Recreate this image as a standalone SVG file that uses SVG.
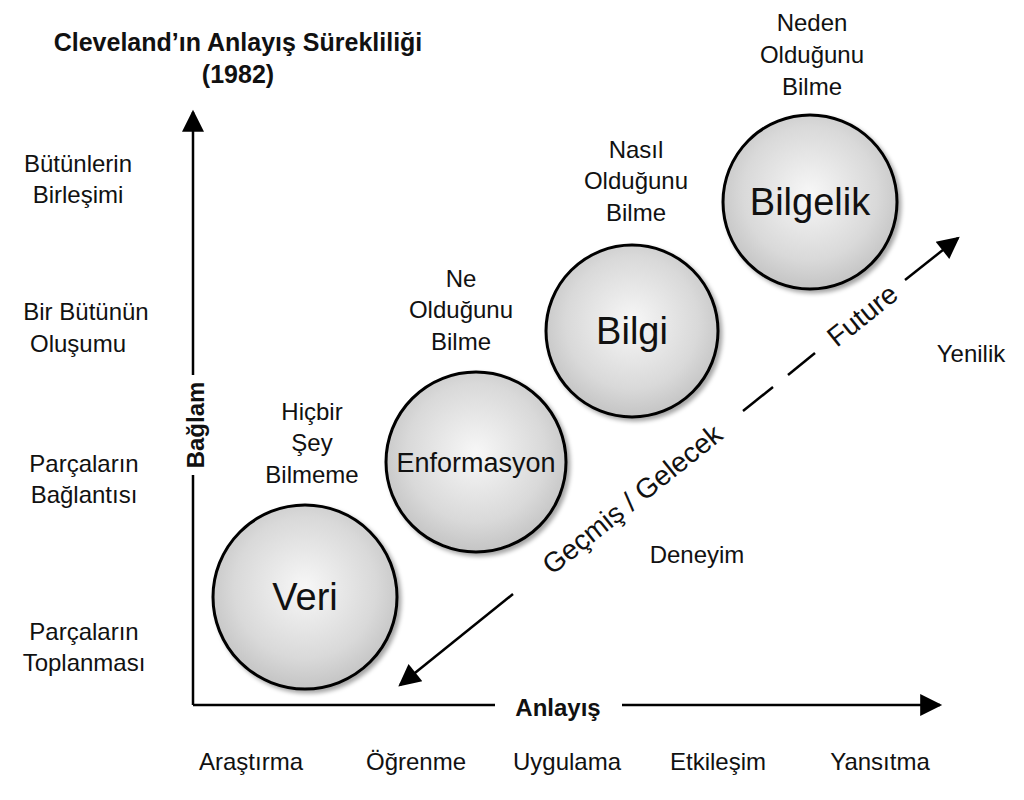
<svg xmlns="http://www.w3.org/2000/svg" width="1024" height="800" viewBox="0 0 1024 800">
<defs>
<radialGradient id="g" cx="0.5" cy="0.45" r="0.55">
<stop offset="0" stop-color="#f7f7f7"/><stop offset="0.7" stop-color="#d9d9d9"/><stop offset="1" stop-color="#c4c4c4"/>
</radialGradient>
<filter id="sh" x="-20%" y="-20%" width="140%" height="140%"><feDropShadow dx="3" dy="3" stdDeviation="2" flood-color="#000" flood-opacity="0.35"/></filter>
<marker id="ah2" viewBox="0 0 10 10" refX="9" refY="5" markerWidth="26" markerHeight="22" markerUnits="userSpaceOnUse" orient="auto-start-reverse"><path d="M0,0 L10,5 L0,10 z" fill="#000"/></marker>
</defs>
<style>
text{font-family:"Liberation Sans",Arial,sans-serif;fill:#111}
.t{font-size:24px;text-anchor:middle}
.b{font-weight:bold}
.ti{font-size:25px}
.big{font-size:38px}
.mid{font-size:27px}
.dg{font-size:28px}
.c{fill:url(#g);stroke:#000;stroke-width:3;filter:url(#sh)}
.ln{stroke:#000;stroke-width:2.5;fill:none}
</style>
<rect width="1024" height="800" fill="#fff"/>
<text class="t b ti" x="238" y="51">Cleveland’ın Anlayış Sürekliliği</text>
<text class="t b ti" x="238" y="83">(1982)</text>
<text class="t" x="78" y="172">Bütünlerin</text><text class="t" x="78" y="203">Birleşimi</text>
<text class="t" x="86" y="320">Bir Bütünün</text><text class="t" x="78" y="352">Oluşumu</text>
<text class="t" x="84" y="472">Parçaların</text><text class="t" x="84" y="503">Bağlantısı</text>
<text class="t" x="84" y="640">Parçaların</text><text class="t" x="84" y="671">Toplanması</text>
<text class="t" x="251" y="770">Araştırma</text>
<text class="t" x="416" y="770">Öğrenme</text>
<text class="t" x="567" y="770">Uygulama</text>
<text class="t" x="718" y="770">Etkileşim</text>
<text class="t" x="880" y="770">Yansıtma</text>
<text class="t" x="312" y="420">Hiçbir</text><text class="t" x="312" y="451">Şey</text><text class="t" x="312" y="483">Bilmeme</text>
<text class="t" x="461" y="287">Ne</text><text class="t" x="461" y="318">Olduğunu</text><text class="t" x="461" y="350">Bilme</text>
<text class="t" x="636" y="158">Nasıl</text><text class="t" x="636" y="189">Olduğunu</text><text class="t" x="636" y="221">Bilme</text>
<text class="t" x="812" y="31">Neden</text><text class="t" x="812" y="63">Olduğunu</text><text class="t" x="812" y="95">Bilme</text>
<text class="t" x="971" y="362">Yenilik</text>
<text class="t" x="697" y="563">Deneyim</text>
<g id="connectors">
<line class="ln" x1="193" y1="705" x2="193" y2="112" marker-end="url(#ah2)"/>
<line class="ln" x1="193" y1="705" x2="495" y2="705"/>
<line class="ln" x1="622" y1="705" x2="940" y2="705" marker-end="url(#ah2)"/>
<line class="ln" x1="513" y1="594" x2="400" y2="685" marker-end="url(#ah2)"/>
<line class="ln" x1="743" y1="411" x2="773" y2="387"/>
<line class="ln" x1="788" y1="375" x2="815" y2="353"/>
<line class="ln" x1="905" y1="280" x2="958" y2="238" marker-end="url(#ah2)"/>
</g>
<rect x="183" y="375" width="26" height="100" fill="#fff"/>
<text class="t b" transform="translate(204,425) rotate(-90)">Bağlam</text>
<text class="t b" x="558" y="716">Anlayış</text>
<text class="t dg" transform="translate(632,499) rotate(-38.7)" dy="10">Geçmiş / Gelecek</text>
<text class="t dg" transform="translate(862,315) rotate(-38.7)" dy="10">Future</text>
<g id="veri"><circle class="c" cx="305" cy="597" r="92"/><text class="t big" x="305" y="610">Veri</text></g>
<g id="enformasyon"><circle class="c" cx="476" cy="462" r="90"/><text class="t mid" x="476" y="472">Enformasyon</text></g>
<g id="bilgi"><circle class="c" cx="632" cy="331" r="86"/><text class="t big" x="632" y="344">Bilgi</text></g>
<g id="bilgelik"><circle class="c" cx="810" cy="202" r="87"/><text class="t big" x="810" y="215">Bilgelik</text></g>
</svg>
